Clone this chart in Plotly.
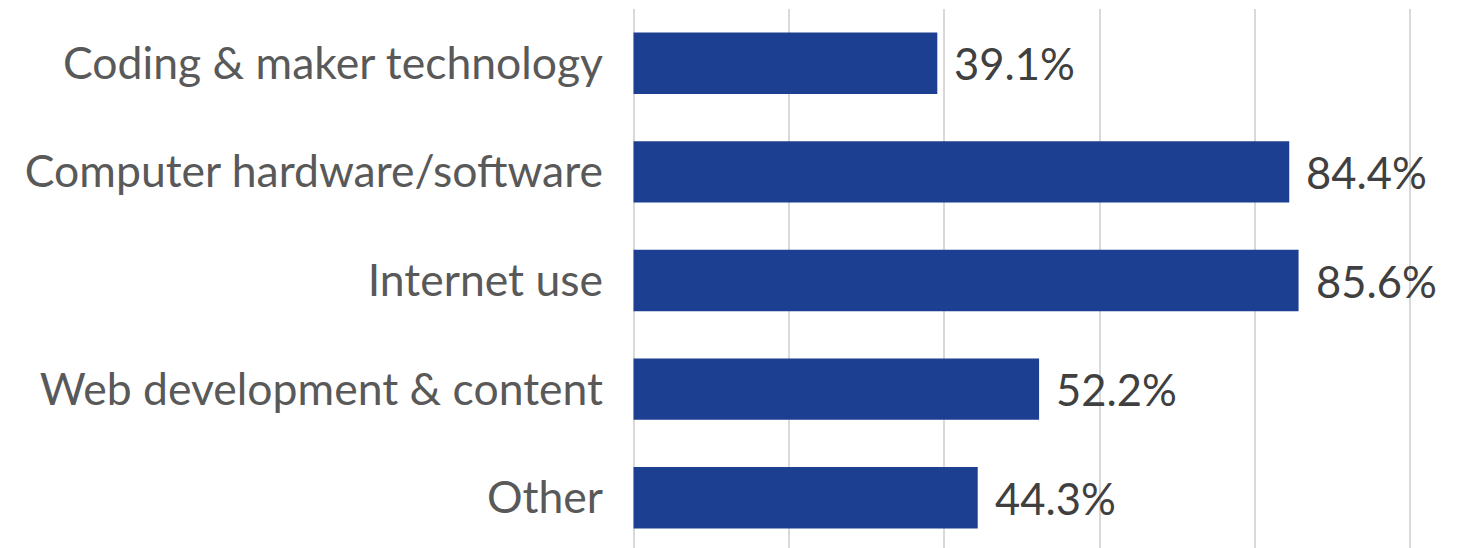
import plotly.graph_objects as go

categories = ["Coding & maker technology", "Computer hardware/software", "Internet use",
              "Web development & content", "Other"]
values = [39.1, 84.4, 85.6, 52.2, 44.3]
labels = [f"{v:.1f}%" for v in values]
grid_ticks = [0, 20, 40, 60, 80, 100]

fig = go.Figure()
fig.add_trace(go.Bar(
    x=values, y=categories, orientation="h",
    marker=dict(color="#1D3F91", line=dict(width=0)),
    width=0.565, hoverinfo="skip",
))

for c, v, t in zip(categories, values, labels):
    fig.add_annotation(x=v, y=c, text=t, showarrow=False, xanchor="left", yanchor="middle",
                       xshift=15, font=dict(family="Lato", size=43.5, color="#404040"))

fig.update_layout(
    width=1452, height=540,
    margin=dict(l=624, r=48, t=1, b=0),
    plot_bgcolor="white", paper_bgcolor="white",
    showlegend=False,
    font=dict(family="Lato", size=44.5, color="#595959"),
    xaxis=dict(range=[-0.2, 100.2], tickvals=grid_ticks, showticklabels=False,
               showgrid=True, gridcolor="#D9D9D9", gridwidth=1.5, zeroline=False,
               showline=False, fixedrange=True),
    yaxis=dict(categoryorder="array", categoryarray=categories,
               range=[4.463, -0.5], showgrid=False, zeroline=False, showline=False,
               ticks="", ticklabelstandoff=28,
               tickfont=dict(family="Lato", size=44.5, color="#595959")),
)

fig.write_html("out.html")
